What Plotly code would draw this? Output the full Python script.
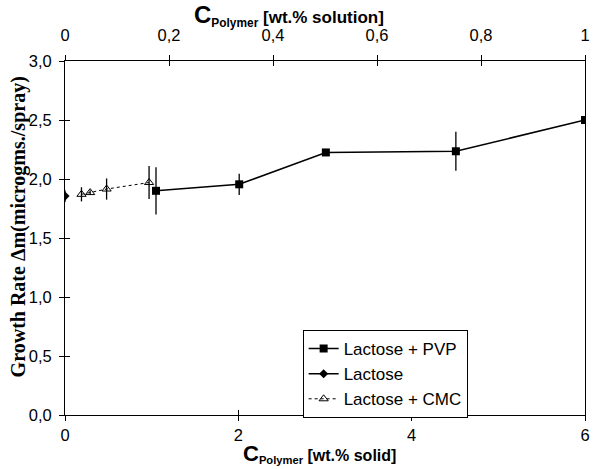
import plotly.graph_objects as go

# Data (x in wt.% solid)
pvp_x = [1.05, 2.01, 3.01, 4.51, 6.0]
pvp_y = [1.90, 1.955, 2.225, 2.235, 2.50]
pvp_err = [0.20, 0.09, 0.03, 0.165, 0.03]

lac_x = [0.0]
lac_y = [1.855]
lac_err = [0.05]

cmc_x = [0.19, 0.29, 0.48, 0.97]
cmc_y = [1.87, 1.885, 1.915, 1.97]
cmc_err = [0.06, 0.02, 0.09, 0.14]

bottom_ticks = [0, 2, 4, 6]
top_ticks = [0, 0.2, 0.4, 0.6, 0.8, 1.0]
y_ticks = [0, 0.5, 1.0, 1.5, 2.0, 2.5, 3.0]

FONT = "Liberation Sans, Arial, sans-serif"
fig = go.Figure()

fig.add_trace(go.Scatter(
    x=pvp_x, y=pvp_y, mode="lines+markers", name="Lactose + PVP",
    line=dict(color="black", width=1.5),
    marker=dict(symbol="square", size=8, color="black"),
    error_y=dict(type="data", array=pvp_err, color="black", thickness=1.3, width=0),
))
fig.add_trace(go.Scatter(
    x=lac_x, y=lac_y, mode="lines+markers", name="Lactose",
    line=dict(color="black", width=1.5),
    marker=dict(symbol="diamond", size=7, color="black"),
    error_y=dict(type="data", array=lac_err, color="black", thickness=1.3, width=0),
))
fig.add_trace(go.Scatter(
    x=cmc_x, y=cmc_y, mode="lines+markers", name="Lactose + CMC",
    line=dict(color="black", width=1, dash="dot"),
    marker=dict(symbol="triangle-up-open", size=8, color="black", line=dict(width=1)),
    error_y=dict(type="data", array=cmc_err, color="black", thickness=1.3, width=0),
))

# invisible helper traces so overlay axes get drawn
for xa, ya in [("x2", "y"), ("x3", "y3"), ("x4", "y")]:
    fig.add_trace(go.Scatter(x=[None], y=[None], xaxis=xa, yaxis=ya,
                             showlegend=False, hoverinfo="skip"))

axis_common = dict(showgrid=False, zeroline=False, linecolor="black", linewidth=1,
                   tickcolor="black", ticklen=5,
                   tickfont=dict(family=FONT, size=16.5, color="black"))

fig.update_layout(
    width=595, height=469,
    margin=dict(l=65, r=5, t=61, b=54),
    plot_bgcolor="white", paper_bgcolor="white",
    separators=",.",
    showlegend=True,
    legend=dict(x=0.457, y=0.24, xanchor="left", yanchor="top",
                bgcolor="white", bordercolor="black", borderwidth=1,
                font=dict(family=FONT, size=17, color="black"),
                itemwidth=30, tracegroupgap=0),
    xaxis=dict(range=[0, 6], tickvals=bottom_ticks, ticks="outside", showline=True,
               ticklabelstandoff=0, **axis_common),
    xaxis3=dict(range=[0, 6], tickvals=bottom_ticks, ticks="inside", showline=False,
                overlaying="x", anchor="y3", side="bottom", showticklabels=False,
                **axis_common),
    xaxis2=dict(range=[0, 1], tickvals=top_ticks, ticks="outside", showline=True,
                overlaying="x", anchor="y", side="top", ticklabelstandoff=7,
                **axis_common),
    xaxis4=dict(range=[0, 1], tickvals=top_ticks, ticks="inside", showline=False,
                overlaying="x", anchor="y", side="top", showticklabels=False,
                **axis_common),
    yaxis=dict(range=[0, 3], tickvals=y_ticks, tickformat=".1f", ticks="outside",
               showline=True, mirror=True, ticklabelstandoff=4, **axis_common),
    yaxis3=dict(range=[0, 3], tickvals=y_ticks, ticks="inside", showline=False,
                overlaying="y", anchor="x3", side="left", showticklabels=False,
                **axis_common),
)

fig.add_annotation(
    xref="paper", yref="paper", x=0.43, y=1.0, yshift=29, xanchor="center", yanchor="bottom",
    showarrow=False,
    text="<b><span style='font-size:24px'>C</span><sub>Polymer</sub> [wt.% solution]</b>",
    font=dict(family=FONT, size=17, color="black"),
)
fig.add_annotation(
    xref="paper", yref="paper", x=0.49, y=0.0, yshift=-24, xanchor="center", yanchor="top",
    showarrow=False,
    text="<b><span style='font-size:22px'>C</span><sub>Polymer</sub> [wt.% solid]</b>",
    font=dict(family=FONT, size=16, color="black"),
)
fig.add_annotation(
    xref="paper", yref="paper", x=0.0, xshift=-47, y=0.53, xanchor="center", yanchor="middle",
    showarrow=False, textangle=-90,
    text="<b>Growth Rate Δm(microgms./spray)</b>",
    font=dict(family="Liberation Serif, Times New Roman, serif", size=20, color="black"),
)

fig.write_html("out.html")
